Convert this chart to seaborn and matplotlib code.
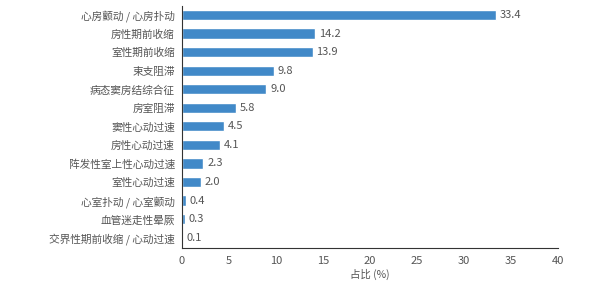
import matplotlib
matplotlib.use("Agg")
import matplotlib.pyplot as plt
import seaborn as sns
import pandas as pd

categories = [
    "心房颤动 / 心房扑动", "房性期前收缩", "室性期前收缩", "束支阻滞",
    "病态窦房结综合征", "房室阻滞", "窦性心动过速", "房性心动过速",
    "阵发性室上性心动过速", "室性心动过速", "心室扑动 / 心室颤动",
    "血管迷走性晕厥", "交界性期前收缩 / 心动过速",
]
values = [33.4, 14.2, 13.9, 9.8, 9.0, 5.8, 4.5, 4.1, 2.3, 2.0, 0.4, 0.3, 0.1]
x_ticks = [0, 5, 10, 15, 20, 25, 30, 35, 40]

sns.set_theme(style="white")
plt.rcParams["font.family"] = ["Noto Sans CJK SC", "DejaVu Sans"]

df = pd.DataFrame({"category": categories, "value": values})
text_color = "#555555"

fig = plt.figure(figsize=(6.0, 2.84), dpi=100)
ax = fig.add_axes([0.303, 0.127, 0.627, 0.853])
sns.barplot(data=df, x="value", y="category", color="#4189c8", saturation=1,
            width=0.55, ax=ax, orient="h")

for i, v in enumerate(values):
    ax.text(v + 0.4, i, f"{v:.1f}", va="center", ha="left",
            fontsize=8, color=text_color)

ax.set_xlim(0, 40)
ax.set_ylim(12.55, -0.5)
ax.set_xticks(x_ticks)
ax.set_xticklabels([str(t) for t in x_ticks])
ax.set_xlabel("占比 (%)", fontsize=7.5, color=text_color, labelpad=2)
ax.set_ylabel("")
for s in ["top", "right"]:
    ax.spines[s].set_visible(False)
for s in ["left", "bottom"]:
    ax.spines[s].set_color("#333333")
    ax.spines[s].set_linewidth(0.8)
ax.tick_params(axis="x", direction="in", length=3, width=0.8, colors="#333333",
               labelsize=8, labelcolor=text_color, pad=6)
ax.tick_params(axis="y", length=0, labelsize=7.7, labelcolor=text_color, pad=5)

fig.savefig("out.png", dpi=100)
